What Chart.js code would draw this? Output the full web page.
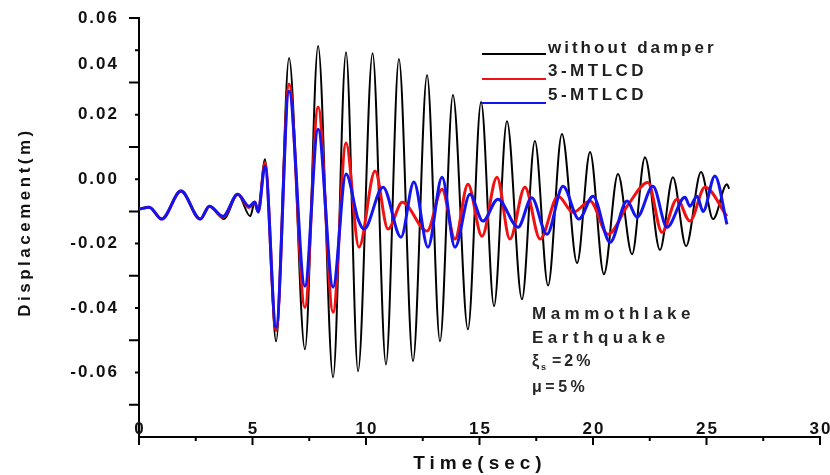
<!DOCTYPE html>
<html>
<head>
<meta charset="utf-8">
<script src="https://cdn.jsdelivr.net/npm/chart.js@4.4.1/dist/chart.umd.min.js"></script>
<style>
    body { margin: 0; background: #fff; }
</style>
</head>
<body>
<canvas id="line-chart" width="830" height="475"></canvas>
<script>
// time (sec) / displacement (m) at the peaks and troughs
var blackT = [0, 0.45, 1.0, 1.85, 2.7, 3.1, 3.75, 4.35, 4.9, 5.1, 5.25, 5.55, 6.04, 6.61, 7.31, 7.89, 8.55, 9.12, 9.65, 10.29, 10.88, 11.45, 12.07, 12.69, 13.26, 13.83, 14.49, 15.07, 15.64, 16.21, 16.87, 17.44, 18.02, 18.63, 19.30, 19.87, 20.48, 21.10, 21.72, 22.29, 22.95, 23.52, 24.10, 24.76, 25.29, 25.9, 26.0];
var blackV = [-0.0093, -0.0087, -0.0124, -0.0037, -0.0124, -0.0084, -0.0124, -0.0047, -0.0115, -0.0071, -0.0102, 0.0062, -0.0503, 0.0376, -0.0528, 0.0413, -0.0615, 0.0394, -0.0596, 0.0391, -0.0575, 0.0373, -0.0565, 0.0323, -0.0503, 0.0261, -0.0466, 0.0239, -0.0394, 0.0180, -0.0373, 0.0118, -0.0330, 0.0140, -0.0260, 0.0084, -0.0295, 0.0016, -0.0233, 0.0068, -0.0220, 0.0006, -0.0208, 0.0022, -0.0124, -0.0016, -0.0030];

var redT = [0, 0.45, 1.0, 1.85, 2.7, 3.1, 3.7, 4.35, 4.85, 5.1, 5.25, 5.55, 6.04, 6.61, 7.31, 7.89, 8.55, 9.12, 9.69, 10.40, 10.97, 11.6, 12.69, 13.35, 13.92, 14.49, 15.11, 15.77, 16.34, 17.0, 17.67, 18.46, 19.12, 19.87, 20.66, 21.54, 22.42, 23.04, 23.7, 24.27, 24.93, 25.9];
var redV = [-0.0093, -0.0087, -0.0124, -0.0037, -0.0124, -0.0084, -0.0118, -0.0047, -0.0088, -0.0071, -0.0102, 0.0050, -0.0470, 0.0295, -0.0398, 0.0224, -0.0413, 0.0112, -0.0211, 0.0025, -0.0155, -0.0072, -0.0161, -0.0031, -0.0186, -0.0016, -0.0177, 0.0006, -0.0186, -0.0025, -0.0186, -0.0053, -0.0103, -0.0068, -0.0171, -0.0080, -0.0010, -0.0165, -0.0062, -0.0130, -0.0025, -0.0115];

var blueT = [0, 0.45, 1.0, 1.85, 2.7, 3.1, 3.7, 4.35, 4.85, 5.1, 5.25, 5.55, 6.04, 6.61, 7.31, 7.89, 8.55, 9.12, 9.65, 9.91, 10.75, 11.54, 12.11, 12.73, 13.35, 13.92, 14.58, 15.15, 15.81, 16.7, 17.3, 17.97, 18.68, 19.38, 20.0, 20.75, 21.5, 21.94, 22.64, 23.26, 24.05, 24.27, 24.58, 24.85, 25.37, 25.9];
var blueV = [-0.0093, -0.0087, -0.0124, -0.0037, -0.0124, -0.0084, -0.0115, -0.0047, -0.0084, -0.0071, -0.0102, 0.0040, -0.0460, 0.0273, -0.0332, 0.0155, -0.0335, 0.0016, -0.0124, -0.0155, -0.0025, -0.0180, -0.0009, -0.0211, 0.0006, -0.0211, -0.0047, -0.0130, -0.0062, -0.0149, -0.0058, -0.0171, -0.0022, -0.0124, -0.0053, -0.0196, -0.0068, -0.0118, -0.0022, -0.0149, -0.0056, -0.0084, -0.0053, -0.0100, 0.0010, -0.0140];

var seriesNames = ["without damper", "3-MTLCD", "5-MTLCD"];
var seriesColors = ["#000000", "#f01212", "#1414ee"];

// labels as printed on the original axis
var yTickValues = [0.05, 0.0355, 0.02, 0, -0.02, -0.04, -0.06];
var yTickLabels = ["0.06", "0.04", "0.02", "0.00", "-0.02", "-0.04", "-0.06"];
var yLongTicks = [0.05, 0.03, 0.01, -0.01, -0.03, -0.05, -0.07];
var yShortTicks = [0.04, 0.02, 0, -0.02, -0.04, -0.06];
var xLongTicks = [0, 5, 10, 15, 20, 25, 30];
var xShortTicks = [2.5, 7.5, 12.5, 17.5, 22.5, 27.5];
var xTickLabels = ["0", "5", "10", "15", "20", "25", "30"];

var noteLines = ["Mammothlake", "Earthquake"];
var xTitle = "Time(sec)";
var yTitle = "Displacement(m)";

var FONT = "'Liberation Sans', Arial, sans-serif";

function toPoints(t, v) {
    return t.map(function (x, i) { return { x: x, y: v[i] }; });
}

function drawText(ctx, s, x, y, size, spacing, align) {
    ctx.font = "bold " + size + "px " + FONT;
    ctx.letterSpacing = spacing + "px";
    ctx.textAlign = align || "left";
    ctx.textBaseline = "alphabetic";
    ctx.fillText(s, x, y);
}

var figurePlugin = {
    id: "figure",
    beforeDraw: function (chart) {
        chart.ctx.letterSpacing = "2px";
    },
    afterDraw: function (chart) {
        var ctx = chart.ctx;
        var xs = chart.scales.x, ys = chart.scales.y;
        var left = chart.chartArea.left, bottom = chart.chartArea.bottom;
        ctx.save();

        // tick marks, long and short
        ctx.strokeStyle = "#000";
        ctx.lineWidth = 2;
        ctx.beginPath();
        yLongTicks.forEach(function (v) {
            var p = ys.getPixelForValue(v);
            ctx.moveTo(left - 10, p); ctx.lineTo(left, p);
        });
        yShortTicks.forEach(function (v) {
            var p = ys.getPixelForValue(v);
            ctx.moveTo(left - 4, p); ctx.lineTo(left, p);
        });
        xLongTicks.forEach(function (v) {
            var p = xs.getPixelForValue(v);
            ctx.moveTo(p, bottom); ctx.lineTo(p, bottom + 8);
        });
        xShortTicks.forEach(function (v) {
            var p = xs.getPixelForValue(v);
            ctx.moveTo(p, bottom); ctx.lineTo(p, bottom + 4);
        });
        ctx.stroke();

        // x labels sit inside the plot, just above the axis
        ctx.fillStyle = "#111";
        xLongTicks.forEach(function (v, i) {
            drawText(ctx, xTickLabels[i], xs.getPixelForValue(v) + 1, bottom - 3, 17, 2, "center");
        });

        // legend
        var legendY = [54, 79, 103];
        for (var i = 0; i < seriesNames.length; i++) {
            ctx.strokeStyle = seriesColors[i];
            ctx.lineWidth = 2;
            ctx.beginPath();
            ctx.moveTo(482, legendY[i]);
            ctx.lineTo(546, legendY[i]);
            ctx.stroke();
            ctx.fillStyle = "#1e1e1e";
            drawText(ctx, seriesNames[i], 548, legendY[i] - (i == 0 ? 1 : 3), 17, i == 0 ? 3 : 3.5);
        }

        // note
        ctx.fillStyle = "#262626";
        drawText(ctx, noteLines[0], 532, 319, 17, 4.5);
        drawText(ctx, noteLines[1], 532, 343, 17, 4.5);
        drawText(ctx, "\u03BE", 532, 366, 16, 0);
        drawText(ctx, "s", 541, 370, 9, 0);
        drawText(ctx, "=2%", 552, 366, 16, 3);
        drawText(ctx, "\u03BC=5%", 532, 392, 16, 3.5);

        // axis titles
        ctx.fillStyle = "#111";
        drawText(ctx, xTitle, 480, 469, 19, 5, "center");
        ctx.translate(30, 222);
        ctx.rotate(-Math.PI / 2);
        drawText(ctx, yTitle, 0, 0, 17, 3.5, "center");

        ctx.restore();
    }
};

var chart = new Chart(document.getElementById("line-chart"), {
    type: "line",
    data: {
        datasets: [
            {
                label: seriesNames[0],
                data: toPoints(blackT, blackV),
                borderColor: seriesColors[0],
                borderWidth: 2,
                order: 3,
            },
            {
                label: seriesNames[1],
                data: toPoints(redT, redV),
                borderColor: seriesColors[1],
                borderWidth: 3,
                order: 2,
            },
            {
                label: seriesNames[2],
                data: toPoints(blueT, blueV),
                borderColor: seriesColors[2],
                borderWidth: 3,
                order: 1,
            },
        ]
    },
    options: {
        responsive: false,
        animation: false,
        parsing: false,
        layout: {
            padding: { top: 18, right: 10, left: 0, bottom: 0 }
        },
        plugins: {
            legend: { display: false },
            tooltip: { enabled: false },
            title: { display: false },
        },
        elements: {
            point: { radius: 0 },
            line: { cubicInterpolationMode: "monotone", borderJoinStyle: "round", fill: false }
        },
        scales: {
            x: {
                type: "linear",
                min: 0,
                max: 30,
                grid: { display: false, drawTicks: false },
                border: { display: true, color: "#000", width: 2 },
                ticks: { display: false, stepSize: 5 },
                afterFit: function (scale) {
                    scale.height = 38;
                    scale.paddingLeft = 0;
                    scale.paddingRight = 0;
                }
            },
            y: {
                type: "linear",
                min: -0.08,
                max: 0.05,
                grid: { display: false, drawTicks: false },
                border: { display: true, color: "#000", width: 2 },
                afterBuildTicks: function (scale) {
                    scale.ticks = yTickValues.map(function (v) { return { value: v }; });
                },
                ticks: {
                    autoSkip: false,
                    padding: 20,
                    color: "#111",
                    font: { family: FONT, size: 17, weight: "bold" },
                    callback: function (value) {
                        var k = yTickValues.indexOf(value);
                        return k >= 0 ? yTickLabels[k] : "";
                    }
                },
                afterFit: function (scale) {
                    scale.width = 139;
                    scale.paddingTop = 0;
                    scale.paddingBottom = 0;
                }
            }
        }
    },
    plugins: [figurePlugin]
});
</script>
</body>
</html>
